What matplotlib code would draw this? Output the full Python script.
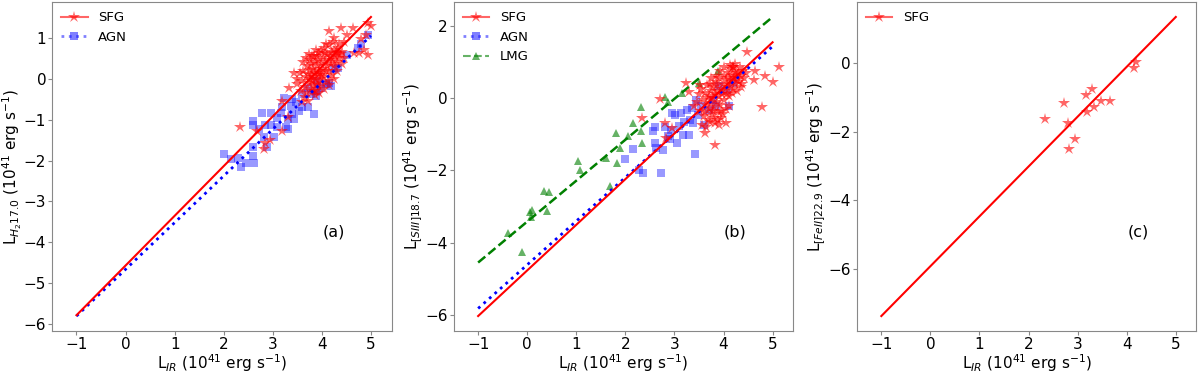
import matplotlib
matplotlib.use("Agg")
import matplotlib.pyplot as plt
from matplotlib.lines import Line2D
import numpy as np

# ---------------- data ----------------
# Panel (a): H2 17.0
a_sfg_x = [2.33, 2.68, 2.82, 2.85, 2.94, 3.19, 3.31, 3.33, 3.19, 3.43, 3.49, 3.60,
           4.39, 4.46, 4.15, 4.63, 4.76, 4.80, 4.86, 4.93, 5.00, 4.93, 4.90, 4.66,
           4.32, 4.08, 3.98, 3.84, 4.25, 4.52,
           3.55, 3.60, 3.62, 3.65, 3.68, 3.70, 3.70, 3.72, 3.74, 3.75, 3.76, 3.78,
           3.78, 3.80, 3.80, 3.82, 3.83, 3.84, 3.85, 3.86, 3.87, 3.88, 3.90, 3.90,
           3.92, 3.93, 3.94, 3.95, 3.96, 3.98, 4.00, 4.00, 4.02, 4.03, 4.05, 4.06,
           4.08, 4.10, 4.10, 4.12, 4.14, 4.15, 4.17, 4.18, 4.20, 4.20, 4.22, 4.24,
           4.25, 4.27, 4.28, 4.30, 4.32, 4.35, 4.38, 4.40, 4.42, 3.66, 3.72, 3.58,
           3.50, 3.62, 3.68, 3.74, 3.80, 3.88, 3.95, 4.05, 4.15, 4.22, 3.85, 3.95,
           4.05, 4.15, 4.25, 3.76, 3.82, 3.90, 3.97, 4.07, 4.30, 4.35, 4.45]
a_sfg_y = [-1.19, -1.27, -1.72, -1.56, -1.49, -1.27, -0.93, -0.23, -0.54, 0.15, -0.14, -0.58,
           1.24, 0.90, 1.16, 1.24, 0.63, 0.96, 0.71, 0.59, 1.28, 1.36, 1.08, 0.63,
           0.63, 0.84, 0.67, 0.55, 1.00, 1.08,
           0.15, -0.05, 0.20, -0.20, 0.05, 0.30, -0.35, 0.12, -0.10, 0.22, 0.00, -0.25,
           0.35, 0.10, -0.05, 0.25, -0.15, 0.05, 0.40, -0.30, 0.15, -0.02, 0.30, -0.12,
           0.08, 0.45, -0.20, 0.20, 0.00, 0.35, 0.10, -0.10, 0.50, 0.25, 0.05, 0.40,
           0.18, 0.60, 0.30, -0.05, 0.45, 0.20, 0.55, 0.35, 0.65, 0.10, 0.45, 0.70,
           0.30, 0.55, 0.62, 0.40, 0.75, 0.50, 0.60, 0.35, 0.65, -0.45, -0.55, -0.30,
           0.00, 0.40, 0.50, 0.60, 0.55, 0.70, 0.62, 0.75, 0.82, 0.90, -0.40, -0.35,
           -0.25, -0.15, 0.00, 0.45, -0.30, 0.55, 0.15, 0.62, 0.20, 0.85, 0.50]
a_agn_x = [2.00, 2.14, 2.29, 2.36, 2.45, 2.60, 2.62, 2.60, 2.60, 2.60, 2.72, 2.79,
           2.82, 2.89, 2.85, 2.97, 2.97, 3.02, 3.09, 3.16, 3.19, 3.23, 3.26, 3.30,
           3.31, 3.37, 3.40, 3.43, 3.47, 3.54, 3.60, 3.71, 3.77, 3.84, 3.88, 3.91,
           3.98, 4.08, 4.15, 4.18, 4.25, 4.32, 4.52, 4.73, 4.80, 4.93, 3.09, 3.60,
           3.40, 3.91, 3.72]
a_agn_y = [-1.84, -1.96, -1.94, -2.16, -2.07, -1.90, -2.07, -1.68, -1.03, -1.12, -1.23, -0.83,
           -1.43, -1.68, -1.12, -1.12, -0.83, -1.43, -0.95, -0.83, -0.70, -0.46, -1.19, -1.23,
           -0.99, -0.66, -0.87, -0.99, -0.58, -0.78, -0.70, -0.70, -0.38, -0.87, -0.42, -0.30,
           -0.22, -0.14, -0.10, -0.18, 0.23, 0.27, 0.59, 0.75, 0.84, 1.08, -1.19, -0.38,
           -0.50, -0.05, -0.22]

# Panel (b): [SIII] 18.7
b_sfg_x = [2.71, 2.34, 2.81, 2.83, 2.96, 3.24, 3.30, 3.39, 3.63, 3.83, 4.48, 4.65,
           4.63, 4.78, 4.85, 5.00, 5.14, 4.05, 4.12, 4.19,
           3.45, 3.50, 3.52, 3.55, 3.58, 3.60, 3.62, 3.64, 3.66, 3.68, 3.70, 3.71,
           3.72, 3.74, 3.75, 3.76, 3.78, 3.79, 3.80, 3.82, 3.83, 3.85, 3.86, 3.87,
           3.88, 3.90, 3.91, 3.92, 3.94, 3.95, 3.96, 3.98, 4.00, 4.01, 4.03, 4.05,
           4.06, 4.08, 4.10, 4.11, 4.12, 4.14, 4.15, 4.16, 4.18, 4.19, 4.20, 4.22,
           4.23, 4.25, 4.26, 4.28, 4.30, 4.32, 4.34, 4.36, 4.38, 4.40, 4.42, 4.45,
           3.57, 3.65, 3.72, 3.80, 3.88, 3.74, 3.84, 3.93, 4.02, 4.13, 4.24, 4.35,
           3.68, 3.78, 3.86, 3.95, 4.08, 4.17, 4.28, 3.52, 3.62, 3.90, 3.98]
b_sfg_y = [-0.03, -0.56, -0.69, -1.11, -0.83, 0.41, 0.18, -0.23, -0.97, -1.31, 1.26, 0.74,
           0.49, -0.25, 0.62, 0.43, 0.86, -0.69, -0.23, 0.87,
           -0.10, 0.10, -0.35, 0.25, -0.05, -0.50, 0.15, -0.20, 0.35, -0.60, 0.05, -0.30,
           0.40, -0.15, 0.20, -0.45, 0.00, 0.30, -0.25, 0.10, -0.70, 0.45, -0.10, 0.20,
           -0.40, 0.05, 0.55, -0.20, 0.25, -0.55, 0.10, 0.40, -0.05, 0.60, 0.20, -0.30,
           0.50, 0.30, 0.70, 0.05, 0.55, 0.35, 0.80, 0.45, 0.65, 0.25, 0.85, 0.55,
           0.40, 0.75, 0.60, 0.50, 0.70, 0.45, 0.85, 0.60, 0.40, 0.75, 0.55, 0.70,
           -0.75, -0.80, -0.65, -0.55, -0.60, 0.55, 0.60, 0.75, 0.85, 0.90, 0.95, 0.30,
           0.00, -0.35, 0.35, -0.35, 0.10, 0.15, 0.20, 0.35, -0.40, -0.75, -0.45]
b_agn_x = [2.00, 2.15, 2.27, 2.35, 2.56, 2.60, 2.61, 2.63, 2.73, 2.76, 2.80, 2.86,
           2.91, 2.93, 3.02, 3.05, 3.09, 3.13, 3.17, 3.25, 3.29, 3.31, 3.36, 3.41,
           3.44, 3.47, 3.54, 3.61, 3.71, 3.78, 3.85, 3.91, 4.08, 4.12, 4.19, 2.96,
           3.20, 3.37]
b_agn_y = [-1.68, -1.41, -1.99, -2.06, -0.92, -0.79, -1.25, -1.39, -2.08, -1.43, -0.79, -1.06,
           -1.14, -0.88, -0.46, -1.25, -0.77, -0.42, -1.02, -0.32, -1.02, -0.60, -0.28, -1.54,
           -0.05, -0.46, -0.23, -0.74, -0.32, -0.05, -0.23, 0.32, 0.23, -0.23, 0.42, -0.42,
           -0.65, -0.69]
b_lmg_x = [-0.39, -0.11, 0.05, 0.10, 0.07, 0.34, 0.44, 0.40, 1.04, 1.07, 1.60, 1.68,
           1.81, 1.82, 1.89, 2.05, 2.15, 2.32, 2.31, 2.34, 2.80, 2.86, 3.15, 3.51, 3.88]
b_lmg_y = [-3.74, -4.26, -3.14, -3.11, -3.28, -2.56, -2.59, -3.12, -1.74, -1.99, -1.67, -2.42,
           -0.97, -1.80, -1.38, -1.06, -0.69, -0.25, -0.92, -1.25, 0.03, -0.12, 0.14, 0.41, 0.74]

# Panel (c): [FeII] 22.9
c_sfg_x = [2.33, 2.72, 2.81, 2.83, 2.95, 3.17, 3.19, 3.30, 3.33, 3.48, 3.65, 4.14, 4.18]
c_sfg_y = [-1.64, -1.15, -1.73, -2.51, -2.22, -0.91, -1.41, -0.75, -1.28, -1.10, -1.10, -0.13, 0.05]

# fit lines: (slope, intercept), drawn over the range below
fit_range = [-1.0, 5.0]
a_fit_sfg = (1.215, -4.565)
a_fit_agn = (1.142, -4.658)
b_fit_sfg = (1.262, -4.768)
b_fit_agn = (1.208, -4.612)
b_fit_lmg = (1.132, -3.418)
c_fit_sfg = (1.458, -5.932)

panel_tags = ['(a)', '(b)', '(c)']
ylabels = [r'L$_{H_2 17.0}$ (10$^{41}$ erg s$^{-1}$)',
           r'L$_{[SIII]18.7}$ (10$^{41}$ erg s$^{-1}$)',
           r'L$_{[FeII]22.9}$ (10$^{41}$ erg s$^{-1}$)']
xlabel = r'L$_{IR}$ (10$^{41}$ erg s$^{-1}$)'

# ---------------- styles ----------------
STAR = dict(color='red', marker='*', ms=9, ls='none', alpha=0.6, mew=0)
SQ = dict(color='blue', marker='s', ms=6, ls='none', alpha=0.4, mew=0)
TRI = dict(color='green', marker='^', ms=6, ls='none', alpha=0.6, mew=0)

fig = plt.figure(figsize=(12, 3.73), dpi=100)
lefts = [0.0433, 0.378, 0.714]
axes = [fig.add_axes([l, 0.1126, 0.2830, 0.882]) for l in lefts]

xl = np.array(fit_range)


def fit_line(ax, fit, **kw):
    ax.plot(xl, fit[0] * xl + fit[1], **kw)


h_sfg = Line2D([], [], color='red', marker='*', ms=9, ls='-', lw=1.5, alpha=0.6, mew=0)
h_agn = Line2D([], [], color='blue', marker='s', ms=6, ls=':', lw=2, alpha=0.5, mew=0)
h_lmg = Line2D([], [], color='green', marker='^', ms=6, ls='--', lw=1.5, alpha=0.6, mew=0)

# (a)
ax = axes[0]
ax.plot(a_agn_x, a_agn_y, **SQ)
ax.plot(a_sfg_x, a_sfg_y, **STAR)
fit_line(ax, a_fit_agn, color='blue', ls=':', lw=2)
fit_line(ax, a_fit_sfg, color='red', ls='-', lw=1.5)
ax.legend([h_sfg, h_agn], ['SFG', 'AGN'], loc='upper left', frameon=False, fontsize=9.5,
          handlelength=2.0, borderaxespad=0.3)

# (b)
ax = axes[1]
ax.plot(b_lmg_x, b_lmg_y, **TRI)
ax.plot(b_agn_x, b_agn_y, **SQ)
ax.plot(b_sfg_x, b_sfg_y, **STAR)
fit_line(ax, b_fit_lmg, color='green', ls='--', lw=1.8)
fit_line(ax, b_fit_agn, color='blue', ls=':', lw=2)
fit_line(ax, b_fit_sfg, color='red', ls='-', lw=1.5)
ax.legend([h_sfg, h_agn, h_lmg], ['SFG', 'AGN', 'LMG'], loc='upper left', frameon=False,
          fontsize=9.5, handlelength=2.0, borderaxespad=0.3)

# (c)
ax = axes[2]
ax.plot(c_sfg_x, c_sfg_y, **STAR)
fit_line(ax, c_fit_sfg, color='red', ls='-', lw=1.5)
ax.legend([h_sfg], ['SFG'], loc='upper left', frameon=False, fontsize=9.5,
          handlelength=2.0, borderaxespad=0.3)

for ax, tag, yl in zip(axes, panel_tags, ylabels):
    ax.set_xlim(-1.5, 5.42)
    ax.set_xticks([-1, 0, 1, 2, 3, 4, 5])
    ax.set_xlabel(xlabel, fontsize=11, labelpad=0)
    ax.set_ylabel(yl, fontsize=11, labelpad=0)
    ax.tick_params(labelsize=11, length=3, pad=1.2, color='#888888')
    ax.text(0.83, 0.30, tag, transform=ax.transAxes, ha='center', va='center', fontsize=11.5)
    for s in ax.spines.values():
        s.set_color('#888888')

fig.savefig('out.png', dpi=100)
